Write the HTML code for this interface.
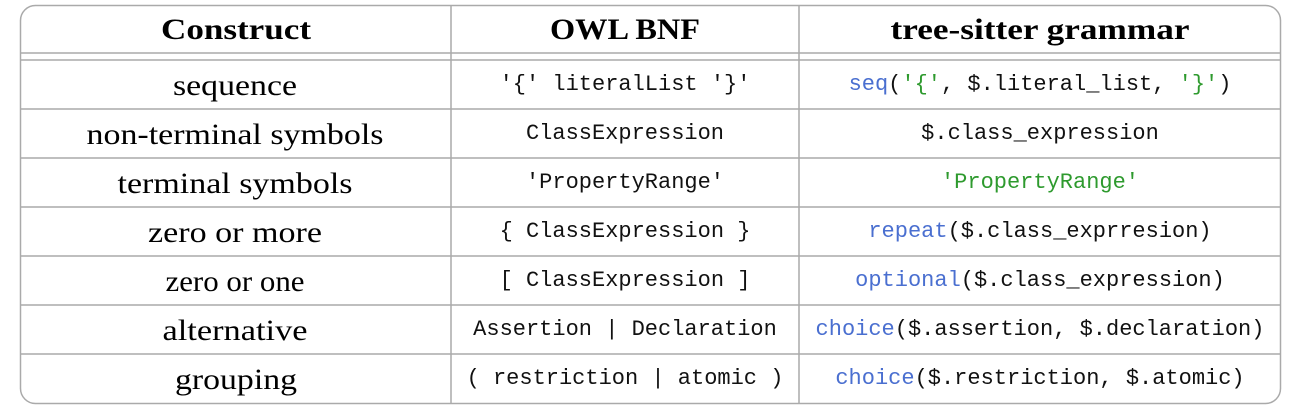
<!DOCTYPE html>
<html><head><meta charset="utf-8"><style>
body{margin:0;background:#fff;width:1294px;height:413px;overflow:hidden}
.s{font-family:"Liberation Serif",serif;font-size:30px;fill:#000}
.m{font-family:"Liberation Mono",monospace;font-size:22px;fill:#111}
.b{fill:#4a6fd0}.g{fill:#2e9a2e}
</style></head><body>
<svg width="1294" height="413" xmlns="http://www.w3.org/2000/svg">
<g stroke="#aaa" stroke-width="1.5" fill="none">
<rect x="20.5" y="5.5" width="1260" height="398" rx="15"/>
<line x1="20" y1="53" x2="1280" y2="53"/>
<line x1="20" y1="60" x2="1280" y2="60"/>
<line x1="20" y1="109" x2="1280" y2="109"/>
<line x1="20" y1="158" x2="1280" y2="158"/>
<line x1="20" y1="207" x2="1280" y2="207"/>
<line x1="20" y1="256" x2="1280" y2="256"/>
<line x1="20" y1="305" x2="1280" y2="305"/>
<line x1="20" y1="354" x2="1280" y2="354"/>
<line x1="451" y1="5" x2="451" y2="403"/>
<line x1="799" y1="5" x2="799" y2="403"/>
</g>
<g text-anchor="middle">
<text class="s" x="236" y="39" font-weight="bold" textLength="150" lengthAdjust="spacingAndGlyphs">Construct</text>
<text class="s" x="625" y="39" font-weight="bold" textLength="150" lengthAdjust="spacingAndGlyphs">OWL BNF</text>
<text class="s" x="1040" y="39" font-weight="bold" textLength="299" lengthAdjust="spacingAndGlyphs">tree-sitter grammar</text>
<text class="s" x="235" y="95" textLength="124" lengthAdjust="spacingAndGlyphs">sequence</text>
<text class="s" x="235" y="144" textLength="297" lengthAdjust="spacingAndGlyphs">non-terminal symbols</text>
<text class="s" x="235" y="193" textLength="235" lengthAdjust="spacingAndGlyphs">terminal symbols</text>
<text class="s" x="235" y="242" textLength="174" lengthAdjust="spacingAndGlyphs">zero or more</text>
<text class="s" x="235" y="291" textLength="139" lengthAdjust="spacingAndGlyphs">zero or one</text>
<text class="s" x="235" y="340" textLength="145" lengthAdjust="spacingAndGlyphs">alternative</text>
<text class="s" x="236" y="389" textLength="122" lengthAdjust="spacingAndGlyphs">grouping</text>
<text class="m" x="625" y="90" xml:space="preserve">'{' literalList '}'</text>
<text class="m" x="625" y="139">ClassExpression</text>
<text class="m" x="625" y="188">'PropertyRange'</text>
<text class="m" x="625" y="237" xml:space="preserve">{ ClassExpression }</text>
<text class="m" x="625" y="286" xml:space="preserve">[ ClassExpression ]</text>
<text class="m" x="625" y="335" xml:space="preserve">Assertion | Declaration</text>
<text class="m" x="625" y="384" xml:space="preserve">( restriction | atomic )</text>
<text class="m" x="1040" y="90" xml:space="preserve"><tspan class="b">seq</tspan>(<tspan class="g">'{'</tspan>, $.literal_list, <tspan class="g">'}'</tspan>)</text>
<text class="m" x="1040" y="139">$.class_expression</text>
<text class="m g" x="1040" y="188">'PropertyRange'</text>
<text class="m" x="1040" y="237"><tspan class="b">repeat</tspan>($.class_exprresion)</text>
<text class="m" x="1040" y="286"><tspan class="b">optional</tspan>($.class_expression)</text>
<text class="m" x="1040" y="335" xml:space="preserve"><tspan class="b">choice</tspan>($.assertion, $.declaration)</text>
<text class="m" x="1040" y="384" xml:space="preserve"><tspan class="b">choice</tspan>($.restriction, $.atomic)</text>
</g>
</svg>
</body></html>
